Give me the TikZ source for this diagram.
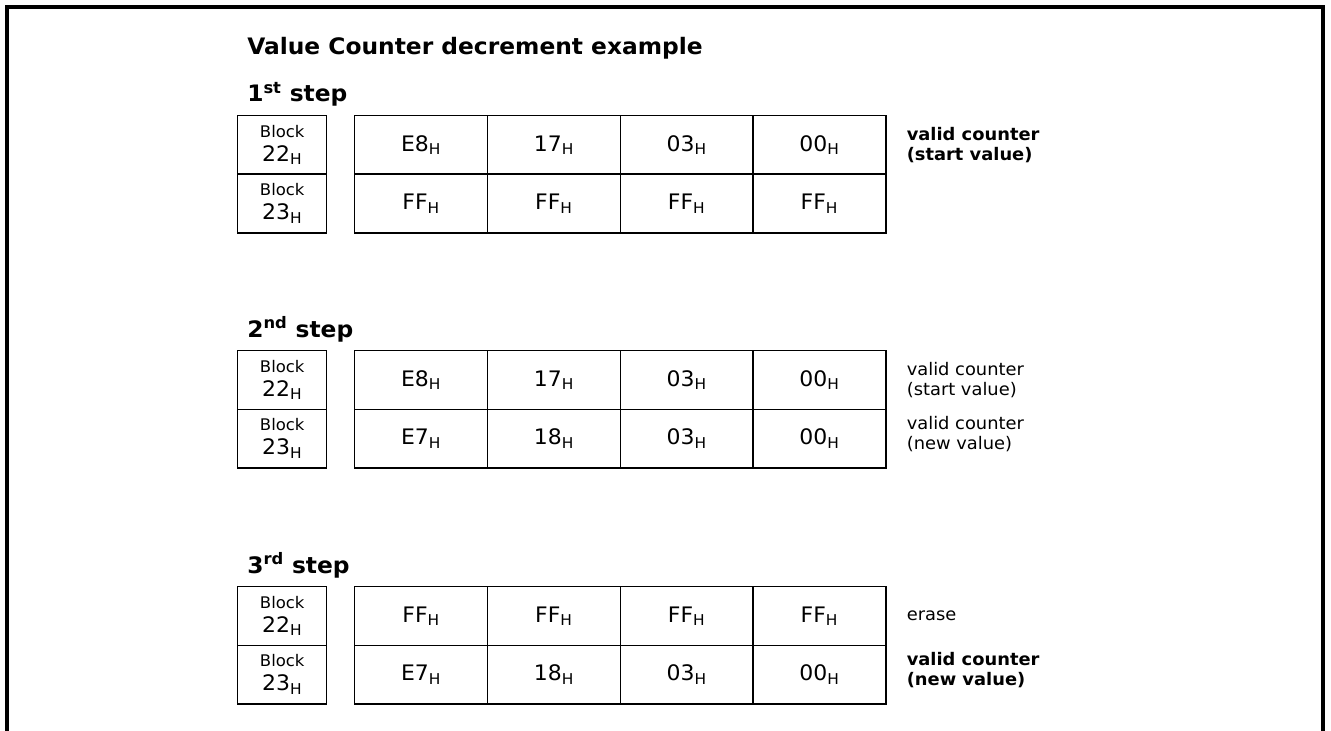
\documentclass[tikz,border=0pt]{standalone}
\usepackage{fontspec}
\setmainfont[FakeStretch=1.03]{DejaVu Sans}
\usetikzlibrary{positioning}

\newcommand{\hx}[1]{#1\textsubscript{H}}

\tikzset{
  cell/.style={draw, line width=1.1pt, inner sep=0pt, anchor=north west, minimum height=43.9pt},
  blockcell/.style={cell, minimum width=66.75pt, align=center, font=\fontsize{16}{18}\selectfont},
  valcell/.style={cell, minimum width=99.6pt, font=\fontsize{16}{18}\selectfont},
  heading/.style={anchor=base west, inner sep=0pt, font=\fontsize{17}{19}\selectfont\bfseries},
  note/.style={inner sep=0pt, align=left, font=\fontsize{13}{15}\selectfont},
  boldnote/.style={note, font=\fontsize{13}{15}\selectfont\bfseries},
}

\begin{document}
\begin{tikzpicture}[x=0.75pt, y=-0.75pt]
  \useasboundingbox (0,0) rectangle (1331,731);

  %frame
  \draw[line width=2.4pt] (7,731) -- (7,7) -- (1323,7) -- (1323,731);

  \node[heading] (title) at (247,55) {Value Counter decrement example};

  %block column
  \foreach \s/\ty/\st in {1/115/st,2/350/nd,3/586/rd}{
    \node[heading] (head\s) at (247,\ty-13) {\s\textsuperscript{\st} step};
    \node[blockcell] (blk\s-a) at (237,\ty) {{\fontsize{12}{12}\selectfont Block}\\\hx{22}};
    \node[blockcell] (blk\s-b) at (237,\ty+58.5) {{\fontsize{12}{12}\selectfont Block}\\\hx{23}};
  }

  %1st step
 \def\dy{115};
    \foreach \i/\v in {0/E8,1/17,2/03,3/00}{
      \node[valcell] (s1a\i) at (354+\i*132.75,\dy) {\hx{\v}};
    }
    \foreach \i/\v in {0/FF,1/FF,2/FF,3/FF}{
      \node[valcell] (s1b\i) at (354+\i*132.75,\dy+58.5) {\hx{\v}};
    }
  \node[boldnote, right=15pt of s1a3] (lab1a) {valid counter\\(start value)};

  %2nd step
 \def\dy{350};
    \foreach \i/\v in {0/E8,1/17,2/03,3/00}{
      \node[valcell] (s2a\i) at (354+\i*132.75,\dy) {\hx{\v}};
    }
    \foreach \i/\v in {0/E7,1/18,2/03,3/00}{
      \node[valcell] (s2b\i) at (354+\i*132.75,\dy+58.5) {\hx{\v}};
    }
  \node[note, right=15pt of s2a3] (lab2a) {valid counter\\(start value)};
  \node[note, right=15pt of s2b3, yshift=3pt] (lab2b) {valid counter\\(new value)};

  %3rd step
 \def\dy{586};
    \foreach \i/\v in {0/FF,1/FF,2/FF,3/FF}{
      \node[valcell] (s3a\i) at (354+\i*132.75,\dy) {\hx{\v}};
    }
    \foreach \i/\v in {0/E7,1/18,2/03,3/00}{
      \node[valcell] (s3b\i) at (354+\i*132.75,\dy+58.5) {\hx{\v}};
    }
  \node[note, right=15pt of s3a3] (lab3a) {erase};
  \node[boldnote, right=15pt of s3b3, yshift=3pt] (lab3b) {valid counter\\(new value)};

\end{tikzpicture}
\end{document}
